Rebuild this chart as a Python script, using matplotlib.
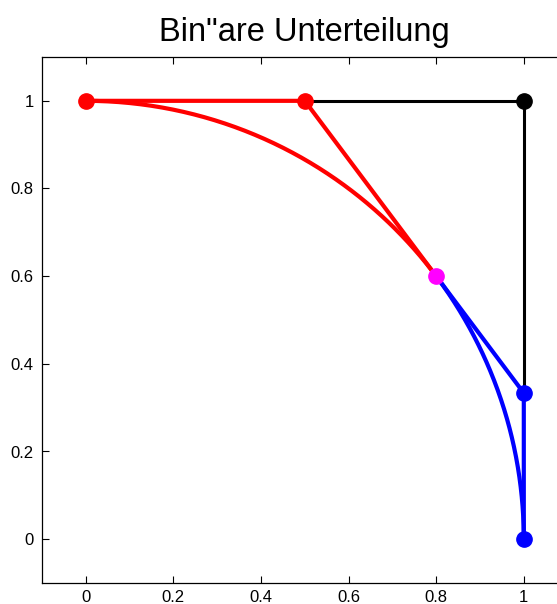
import numpy as np
import matplotlib.pyplot as plt

plt.rcParams['font.family'] = ['Liberation Sans', 'DejaVu Sans']

# rational quadratic control points and weights (quarter circle)
ctrl_x = [0.0, 1.0, 1.0]
ctrl_y = [1.0, 1.0, 0.0]
weights = [1.0, 1.0, 2.0]

# subdivided control polygons
left_x = [0.0, 0.5, 0.8]
left_y = [1.0, 1.0, 0.6]
right_x = [0.8, 1.0, 1.0]
right_y = [0.6, 1 / 3, 0.0]
split_x, split_y = 0.8, 0.6

ticks = [0, 0.2, 0.4, 0.6, 0.8, 1]
tick_labels = ['0', '0.2', '0.4', '0.6', '0.8', '1']


def rat_bezier(px, py, w, t):
    b0 = (1 - t) ** 2 * w[0]
    b1 = 2 * t * (1 - t) * w[1]
    b2 = t ** 2 * w[2]
    d = b0 + b1 + b2
    return (b0 * px[0] + b1 * px[1] + b2 * px[2]) / d, (b0 * py[0] + b1 * py[1] + b2 * py[2]) / d


t = np.linspace(0, 1, 400)
cx, cy = rat_bezier(ctrl_x, ctrl_y, weights, t)
left = t <= 0.5
right = t >= 0.5

fig = plt.figure(figsize=(5.57, 6.04), dpi=100)
ax = fig.add_axes([42 / 557, 1 - 583 / 604, 525.6 / 557, 526 / 604])

# black part of original polygon
ax.plot([0.5, 1, 1], [1, 1, 1 / 3], color='black', lw=2.2, zorder=2)
ax.plot([1], [1], 'o', color='black', ms=11, zorder=5)

ax.plot(left_x, left_y, color='red', lw=3, zorder=3)
ax.plot(cx[left], cy[left], color='red', lw=3, zorder=3)
ax.plot(right_x, right_y, color='blue', lw=3, zorder=3)
ax.plot(cx[right], cy[right], color='blue', lw=3, zorder=3)

ax.plot(left_x[:2], left_y[:2], 'o', color='red', ms=11, zorder=5)
ax.plot(right_x[1:], right_y[1:], 'o', color='blue', ms=11, zorder=5)
ax.plot([split_x], [split_y], 'o', color='magenta', ms=11, zorder=6)

ax.set_xlim(-0.1, 1.1)
ax.set_ylim(-0.1, 1.1)
ax.set_xticks(ticks)
ax.set_xticklabels(tick_labels)
ax.set_yticks(ticks)
ax.set_yticklabels(tick_labels)
ax.tick_params(direction='in', length=5, width=0.8, labelsize=12, top=True, right=True, pad=6)
ax.tick_params(axis='x', pad=5)
for s in ax.spines.values():
    s.set_linewidth(0.9)

fig.text(304 / 557, 1 - 33 / 604, 'Bin"are Unterteilung', ha='center', va='center', fontsize=23.5)

fig.savefig('out.png', dpi=100)
